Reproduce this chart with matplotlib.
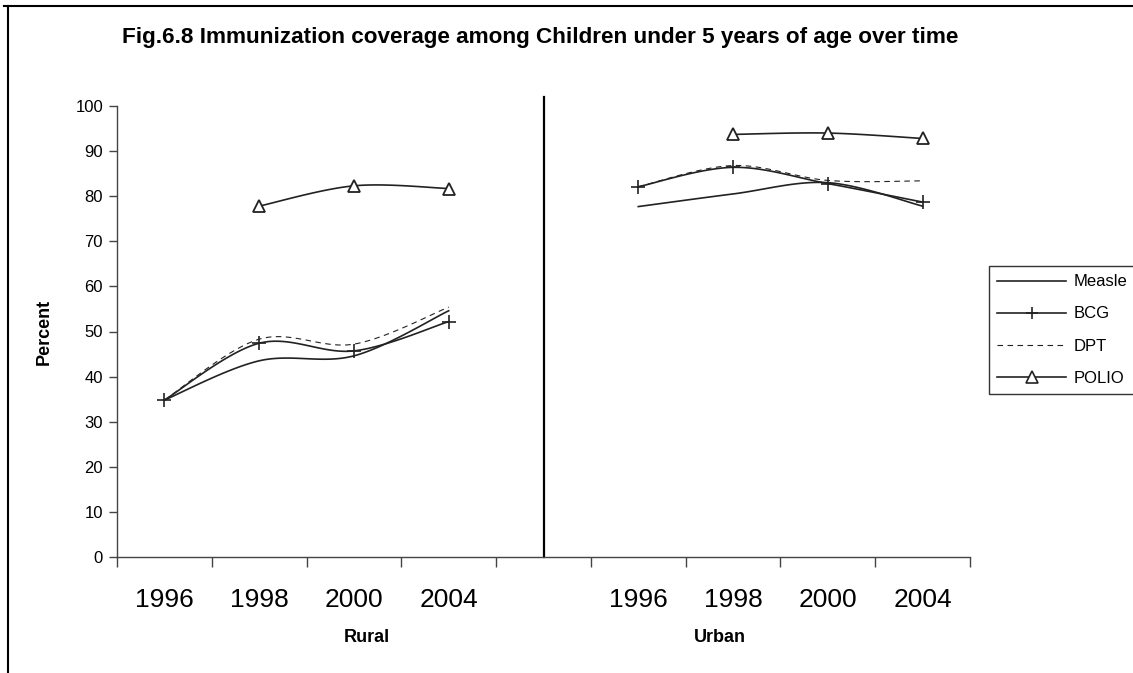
import matplotlib
matplotlib.use("Agg")
import matplotlib.pyplot as plt
from matplotlib.lines import Line2D
import numpy as np

plt.rcParams["font.family"] = ["Liberation Sans", "DejaVu Sans"]

# category axis: Rural years, an empty separator slot, Urban years
year_labels = ["1996", "1998", "2000", "2004", "", "1996", "1998", "2000", "2004"]
group_labels = ["Rural", "Urban"]

nan = np.nan
measle = [34.8, 43.5, 44.6, 54.6, nan, 77.7, 80.5, 83.0, 77.8]
bcg = [34.8, 47.4, 45.7, 52.2, nan, 82.1, 86.4, 82.8, 78.7]
dpt = [34.8, 48.3, 47.2, 55.4, nan, 82.1, 86.8, 83.5, 83.4]
polio = [nan, 77.8, 82.3, 81.7, nan, nan, 93.7, 94.0, 92.8]

INK = "#222222"


def smooth_runs(x, y, n=30):
    """Excel-like smoothed line: Catmull-Rom bezier through each finite run."""
    x = np.asarray(x, float)
    y = np.asarray(y, float)
    ok = np.isfinite(y)
    runs, cur = [], []
    for i in range(len(y)):
        if ok[i]:
            cur.append(i)
        elif cur:
            runs.append(cur)
            cur = []
    if cur:
        runs.append(cur)
    out = []
    for r in runs:
        px, py = x[r], y[r]
        if len(r) == 1:
            out.append((px, py))
            continue
        xs, ys = [], []
        m = len(r)
        for i in range(m - 1):
            p0 = np.array([px[i], py[i]])
            p3 = np.array([px[i + 1], py[i + 1]])
            prev = np.array([px[i - 1], py[i - 1]]) if i > 0 else p0
            nxt = np.array([px[i + 2], py[i + 2]]) if i + 2 < m else p3
            c1 = p0 + (p3 - prev) / 6.0
            c2 = p3 - (nxt - p0) / 6.0
            t = np.linspace(0, 1, n)[:, None]
            pts = ((1 - t) ** 3) * p0 + 3 * ((1 - t) ** 2) * t * c1 + 3 * (1 - t) * t ** 2 * c2 + t ** 3 * p3
            xs.extend(pts[:, 0])
            ys.extend(pts[:, 1])
        out.append((np.array(xs), np.array(ys)))
    return out


fig = plt.figure(figsize=(11.33, 6.73), dpi=100)
ax = fig.add_axes([117 / 1133, 1 - 557 / 673, 853 / 1133, 451 / 673])

xpos = np.arange(len(year_labels))

series = [
    ("Measle", measle, "-", None),
    ("BCG", bcg, "-", "+"),
    ("DPT", dpt, (0, (5, 4)), None),
    ("POLIO", polio, "-", "^"),
]

handles = []
for name, vals, ls, mk in series:
    lw = 0.8 if name == "DPT" else 1.2
    for sx, sy in smooth_runs(xpos, vals):
        ax.plot(sx, sy, color=INK, linestyle=ls, linewidth=lw)
    if mk == "+":
        ax.plot(xpos, vals, linestyle="none", marker="+", markersize=10,
                markeredgewidth=1.2, color=INK, zorder=3)
    elif mk == "^":
        ax.plot(xpos, vals, linestyle="none", marker="^", markersize=9,
                markerfacecolor="white", markeredgecolor=INK,
                markeredgewidth=1.3, zorder=3)
    handles.append(Line2D([], [], color=INK, linestyle=ls, linewidth=lw,
                          marker=mk if mk else None, markersize=9 if mk else 0,
                          markerfacecolor="white", markeredgecolor=INK,
                          markeredgewidth=1.2, label=name))

# separator between Rural and Urban
ax.axvline(4, ymin=0, ymax=1.02, color="black", linewidth=1.6, clip_on=False)

ax.set_xlim(-0.5, len(year_labels) - 0.5)
ax.set_ylim(0, 100)
ax.set_yticks(np.arange(0, 101, 10))
ax.tick_params(axis="y", labelsize=12, length=6, width=1, pad=4, color="#444444")
ax.set_xticks(np.arange(-0.5, len(year_labels), 1.0))
ax.set_xticklabels([])
ax.tick_params(axis="x", which="major", length=7, width=1, direction="out", color="#444444")
ax.set_xticks(xpos, minor=True)
ax.set_xticklabels(year_labels, minor=True)
ax.tick_params(axis="x", which="minor", length=0, labelsize=19, pad=22)

for side in ("top", "right"):
    ax.spines[side].set_visible(False)
for side in ("left", "bottom"):
    ax.spines[side].set_color("#444444")
    ax.spines[side].set_linewidth(1)

ax.set_ylabel("Percent", fontsize=13, fontweight="bold", labelpad=16)

fig.text(367 / 1133, 1 - 638 / 673, group_labels[0], ha="center", va="center",
         fontsize=13, fontweight="bold")
fig.text(720 / 1133, 1 - 638 / 673, group_labels[1], ha="center", va="center",
         fontsize=13, fontweight="bold")

fig.text(540 / 1133, 1 - 37 / 673,
         "Fig.6.8 Immunization coverage among Children under 5 years of age over time",
         ha="center", va="center", fontsize=16.2, fontweight="bold")

leg = fig.legend(handles=handles, loc="upper left", bbox_to_anchor=(989 / 1133, 1 - 266 / 673),
                 borderaxespad=0, frameon=True, fancybox=False, fontsize=12,
                 handlelength=4.1, handletextpad=0.45, labelspacing=1.03,
                 borderpad=0.5)
leg.get_frame().set_edgecolor("black")
leg.get_frame().set_linewidth(1)

# outer chart border (top and left only are visible)
fig.add_artist(Line2D([4 / 1133, 1], [1 - 6 / 673, 1 - 6 / 673], color="black", linewidth=1.5))
fig.add_artist(Line2D([8 / 1133, 8 / 1133], [0, 1 - 6 / 673], color="black", linewidth=1.5))

fig.savefig("out.png", dpi=100)
